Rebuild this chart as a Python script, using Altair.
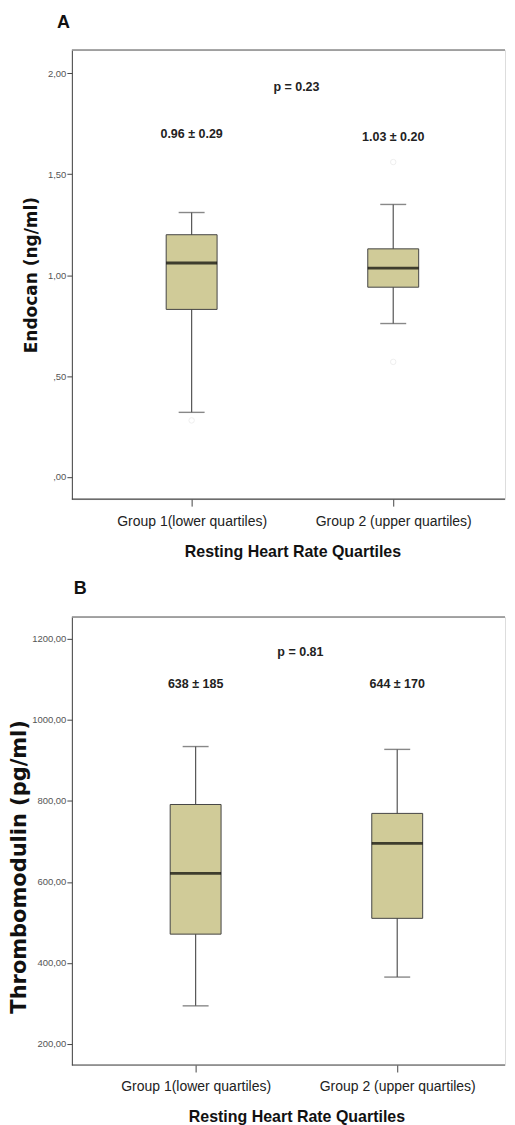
import altair as alt
import pandas as pd

# ---------------- data ----------------
groups = ["Group 1(lower quartiles)", "Group 2 (upper quartiles)"]

# Panel A: Endocan (ng/ml)
a_lower = [0.32, 0.76]
a_q1 = [0.83, 0.94]
a_median = [1.06, 1.035]
a_q3 = [1.20, 1.13]
a_upper = [1.31, 1.35]
a_out_group = ["Group 1(lower quartiles)", "Group 2 (upper quartiles)", "Group 2 (upper quartiles)"]
a_out_value = [0.28, 0.57, 1.56]
a_labels = ["0.96 \u00b1 0.29", "1.03 \u00b1 0.20"]
a_label_y = [1.70, 1.685]
a_p_text = "p = 0.23"
a_p_y = 1.93
a_ticks = [0.0, 0.5, 1.0, 1.5, 2.0]
a_domain = [-0.11, 2.115]

# Panel B: Thrombomodulin (pg/ml)
b_lower = [294, 365]
b_q1 = [471, 510]
b_median = [621, 695]
b_q3 = [791, 769]
b_upper = [934, 927]
b_labels = ["638 \u00b1 185", "644 \u00b1 170"]
b_label_y = [1089, 1089]
b_p_text = "p = 0.81"
b_p_y = 1168
b_ticks = [200, 400, 600, 800, 1000, 1200]
b_domain = [148, 1254]

# ---------------- style ----------------
SANS = "Liberation Sans, Arial, sans-serif"
W = 434
BOX_FILL = "#D0CB98"
BG = "#EFF0F0"


def panel(lower, q1, med, q3, upper, labels, label_y, p_text, p_y, ticks, domain,
          ytitle, ytitle_size, ytitle_pad, ytitle_y, label_expr, letter, letter_dx, letter_dy,
          x_range, height, out_group=None, out_value=None):
    df = pd.DataFrame({"group": groups, "lower": lower, "q1": q1, "median": med,
                       "q3": q3, "upper": upper})
    ann = pd.DataFrame({"group": groups, "text": labels, "ty": label_y})
    pdf = pd.DataFrame({"text": [p_text], "ty": [p_y]})
    ldf = pd.DataFrame({"text": [letter]})

    xenc = alt.X(
        "group:N", sort=groups,
        scale=alt.Scale(type="point", range=x_range, padding=0),
        axis=alt.Axis(
            title="Resting Heart Rate Quartiles", labelAngle=0,
            labelFont=SANS, labelFontSize=14, labelColor="#222",
            labelPadding=8, tickSize=7, tickColor="#444", domain=False,
            titleFont=SANS, titleFontSize=16, titleFontWeight="bold",
            titleColor="#111", titlePadding=15, grid=False,
        ),
    )
    yscale = alt.Scale(domain=domain, nice=False, zero=False)
    yaxis = alt.Axis(
        title=ytitle, values=ticks, labelExpr=label_expr,
        labelFont=SANS, labelFontSize=9.5, labelColor="#555", labelPadding=1,
        tickSize=5, tickColor="#444", domainColor="#444", grid=False,
        titleFont="DejaVu Sans", titleFontSize=ytitle_size, titleFontWeight="bold",
        titleColor="#111", titlePadding=ytitle_pad, titleY=ytitle_y,
    )

    def Y(field):
        return alt.Y(field, scale=yscale, axis=yaxis)

    base = alt.Chart(df)
    whisker = base.mark_rule(color="#555", strokeWidth=1.2).encode(
        x=xenc, y=Y("lower:Q"), y2="upper:Q")
    cap_lo = base.mark_tick(color="#555", size=26, thickness=1.4).encode(
        x=xenc, y=Y("lower:Q"))
    cap_hi = base.mark_tick(color="#555", size=26, thickness=1.4).encode(
        x=xenc, y=Y("upper:Q"))
    box = base.mark_bar(size=51, color=BOX_FILL, stroke="#444", strokeWidth=1).encode(
        x=xenc, y=Y("q1:Q"), y2="q3:Q")
    median = base.mark_tick(color="#000", size=51, thickness=2.8).encode(
        x=xenc, y=Y("median:Q"))
    layers = [whisker, cap_lo, cap_hi, box, median]

    if out_group:
        odf = pd.DataFrame({"group": out_group, "value": out_value})
        outl = alt.Chart(odf).mark_point(shape="circle", size=30, color="#E8E8E8",
                                         strokeWidth=1).encode(x=xenc, y=Y("value:Q"))
        layers.append(outl)

    ann_t = alt.Chart(ann).mark_text(font=SANS, fontSize=12.5, fontWeight="bold",
                                     color="#222", baseline="middle").encode(
        x=xenc, y=Y("ty:Q"), text="text:N")
    p_t = alt.Chart(pdf).mark_text(font=SANS, fontSize=12.5, fontWeight="bold",
                                   color="#222", baseline="middle").encode(
        x=alt.value((x_range[0] + x_range[1]) / 2 + 4), y=Y("ty:Q"), text="text:N")
    top = alt.Chart(pdf).mark_rule(color="#8A8A8A", strokeWidth=1.5).encode(
        x=alt.value(0), x2=alt.value(W), y=alt.value(0))
    bottom = alt.Chart(pdf).mark_rule(color="#444", strokeWidth=1.2).encode(
        x=alt.value(0), x2=alt.value(W), y=alt.value(height))
    letter_t = alt.Chart(ldf).mark_text(font=SANS, fontSize=18, fontWeight="bold",
                                        color="#111", align="left",
                                        baseline="alphabetic").encode(
        x=alt.value(letter_dx), y=alt.value(letter_dy), text="text:N")
    layers += [ann_t, p_t, top, bottom, letter_t]

    return alt.layer(*layers).properties(width=W, height=height)


expr_a = ("datum.value < 1 ? replace(format(datum.value, '.2f'), '0.', ',') : "
          "replace(format(datum.value, '.2f'), '.', ',')")
expr_b = "replace(format(datum.value, '.2f'), '.', ',')"

chart_a = panel(a_lower, a_q1, a_median, a_q3, a_upper, a_labels, a_label_y, a_p_text, a_p_y,
                a_ticks, a_domain, "Endocan (ng/ml)", 17, 7, 225, expr_a, "A", -15, -22,
                [120, 322], 450, a_out_group, a_out_value)
chart_b = panel(b_lower, b_q1, b_median, b_q3, b_upper, b_labels, b_label_y, b_p_text, b_p_y,
                b_ticks, b_domain, "Thrombomodulin (pg/ml)", 21, 2, 250, expr_b, "B", 2, -23,
                [124, 326], 449)

chart = alt.vconcat(chart_a, chart_b, spacing=19).properties(
    padding={"left": 0, "top": 4, "right": 0, "bottom": 0}
).configure_view(stroke=None, fill=BG).configure(background="white")

chart.save("out.html", embed_options={"renderer": "svg", "actions": False})
